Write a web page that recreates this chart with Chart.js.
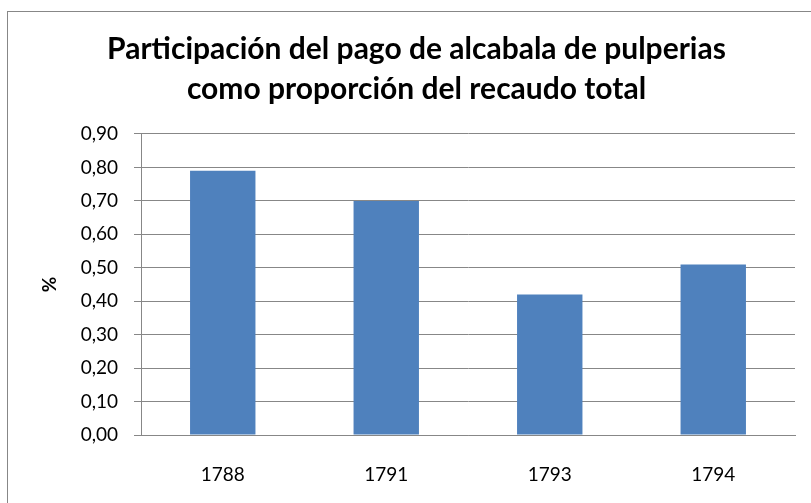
<!DOCTYPE html>
<html>
<head>
<meta charset="utf-8">
<script src="https://cdn.jsdelivr.net/npm/chart.js@4.4.1/dist/chart.umd.min.js"></script>
<style>
    body { margin: 0; background: #fff; }
    #wrap { position: relative; width: 811px; height: 503px; }
    #frame { position: absolute; left: 7px; top: 11px; width: 820px; height: 520px; border: 1px solid #878787; box-sizing: border-box; pointer-events: none; }
</style>
</head>
<body>
<div id="wrap">
    <canvas id="chart" width="811" height="503"></canvas>
    <div id="frame"></div>
</div>
<script>
// datos
var years = ['1788', '1791', '1793', '1794'];
var shares = [0.79, 0.70, 0.42, 0.51];
var titleLines = ['Participación del pago de alcabala de pulperias', 'como proporción del recaudo total'];
var yTitle = '%';

var ctx = document.getElementById('chart');

function fmtComma(v) {
    return v.toFixed(2).replace('.', ',');
}

var barConfig = {
    type: 'bar',
    data: {
        labels: years,
        datasets: [{
            label: yTitle,
            data: shares,
            backgroundColor: '#4F81BD',
            borderWidth: 0,
            barPercentage: 0.4,
            categoryPercentage: 1,
        }]
    },
    options: {
        responsive: false,
        animation: false,
        layout: {
            padding: { left: 38, right: 16, top: 0, bottom: 0 }
        },
        plugins: {
            legend: { display: false },
            tooltip: { enabled: false },
            title: {
                display: true,
                text: titleLines,
                color: '#000',
                font: { family: 'Lato', size: 30, weight: 'bold', lineHeight: 1.3333 },
                padding: { top: 29, bottom: 25 }
            }
        },
        scales: {
            x: {
                afterFit: function (scale) { scale.height = 68; },
                grid: { display: false, drawTicks: false },
                border: { color: '#878787', width: 1 },
                ticks: {
                    color: '#000',
                    font: { family: 'Lato', size: 19 },
                    padding: 28
                }
            },
            y: {
                min: 0,
                max: 0.9,
                afterFit: function (scale) { scale.width = 103; },
                grid: { color: '#878787', lineWidth: 1, tickLength: 7 },
                border: { color: '#878787', width: 1 },
                title: {
                    display: true,
                    text: yTitle,
                    color: '#000',
                    font: { family: 'Lato', size: 19, weight: 'bold' },
                    padding: { top: 0, bottom: 0 }
                },
                ticks: {
                    stepSize: 0.1,
                    color: '#000',
                    font: { family: 'Lato', size: 19 },
                    padding: 16,
                    callback: function (v) { return fmtComma(v); }
                }
            }
        }
    }
};

var myChart = new Chart(ctx, barConfig);
</script>
</body>
</html>
